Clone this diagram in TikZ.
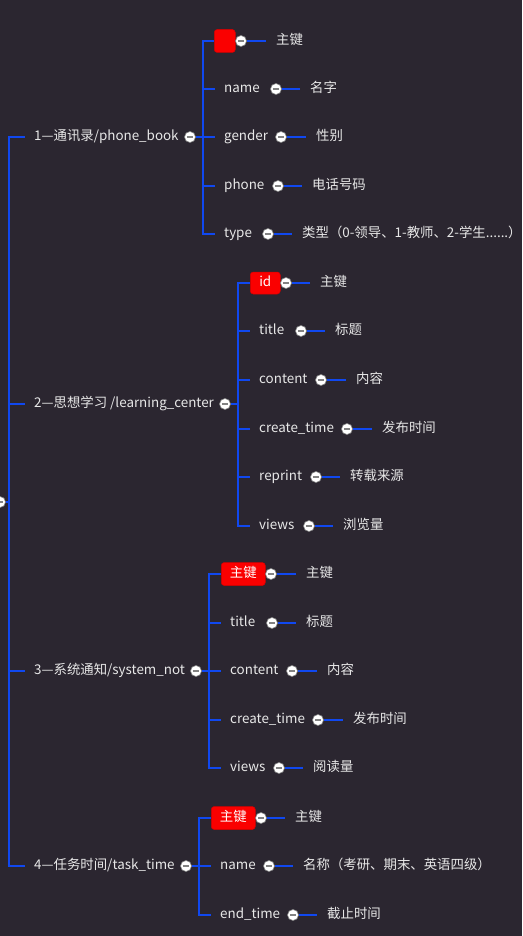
\documentclass[tikz,border=0pt]{standalone}
\usepackage{fontspec}
\setmainfont{Noto Sans CJK SC}
\definecolor{bg}{RGB}{43,38,48}
\definecolor{lineblue}{RGB}{16,72,240}
\definecolor{txtgray}{RGB}{232,232,232}
\definecolor{knobgray}{RGB}{130,130,130}
\definecolor{keyred}{RGB}{250,0,0}
\tikzset{
  link/.style={draw=lineblue, line width=2pt},
  knob/.style={circle, fill=white, draw=knobgray, line width=0.6pt, minimum size=11pt, inner sep=0pt,
    path picture={\draw[knobgray, line width=1.3pt] ([xshift=-3.2pt]path picture bounding box.center) -- ([xshift=3.2pt]path picture bounding box.center);}},
  txt/.style={text=txtgray, font=\fontsize{13.4}{15}\selectfont, inner sep=0pt, anchor=west, text height=0.96em, text depth=0.2em},
  keybox/.style={fill=keyred, draw=keyred!85!black, line width=0.5pt, rounded corners=3pt, inner sep=0pt, text=white,
    font=\fontsize{13.4}{15}\selectfont, minimum height=23pt, anchor=west, text height=0.96em, text depth=0.2em}
}
\begin{document}
\begin{tikzpicture}[x=1pt,y=-1pt]
\fill[bg] (0,0) rectangle (522,936);
\useasboundingbox (0,0) rectangle (522,936);

% root and headings
\node[knob] (root) at (0,502) {};
\node[txt] (h1) at (34,137) {1—通讯录/phone\_book};
\node[txt] (h2) at (34,404) {2—思想学习 /learning\_center};
\node[txt] (h3) at (34,671) {3—系统通知/system\_not};
\node[txt] (h4) at (34,866) {4—任务时间/task\_time};
\node[knob] (b1k) at (190,137) {};
\node[knob] (b2k) at (225,404) {};
\node[knob] (b3k) at (196,671) {};
\node[knob] (b4k) at (186,866) {};

% branch 1
\node[keybox, minimum width=21pt] (f11) at (214,41) {};
\node[txt] (f12) at (224,89) {name};
\node[txt] (f13) at (224,137) {gender};
\node[txt] (f14) at (224,186) {phone};
\node[txt] (f15) at (224,234) {type};
\node[knob] (k11) at (241,41) {};
\node[knob] (k12) at (276,89) {};
\node[knob] (k13) at (281,137) {};
\node[knob] (k14) at (278,186) {};
\node[knob] (k15) at (268,234) {};
\node[txt] (d11) at (276,41) {主键};
\node[txt] (d12) at (310,89) {名字};
\node[txt] (d13) at (316,137) {性别};
\node[txt] (d14) at (312,186) {电话号码};
\node[txt] (d15) at (302,234) {类型（0-领导、1-教师、2-学生......）};

% branch 2
\node[keybox, minimum width=30pt, minimum height=22pt] (f21) at (250,283) {id};
\node[txt] (f22) at (259,331) {title};
\node[txt] (f23) at (259,380) {content};
\node[txt] (f24) at (259,429) {create\_time};
\node[txt] (f25) at (259,477) {reprint};
\node[txt] (f26) at (259,526) {views};
\node[knob] (k21) at (286,283) {};
\node[knob] (k22) at (301,331) {};
\node[knob] (k23) at (321,380) {};
\node[knob] (k24) at (347,429) {};
\node[knob] (k25) at (316,477) {};
\node[knob] (k26) at (309,526) {};
\node[txt] (d21) at (320,283) {主键};
\node[txt] (d22) at (335,331) {标题};
\node[txt] (d23) at (356,380) {内容};
\node[txt] (d24) at (382,429) {发布时间};
\node[txt] (d25) at (350,477) {转载来源};
\node[txt] (d26) at (343,526) {浏览量};

% branch 3
\node[keybox, minimum width=44pt] (f31) at (221,574) {主键};
\node[txt] (f32) at (230,623) {title};
\node[txt] (f33) at (230,671) {content};
\node[txt] (f34) at (230,720) {create\_time};
\node[txt] (f35) at (230,768) {views};
\node[knob] (k31) at (271,574) {};
\node[knob] (k32) at (272,623) {};
\node[knob] (k33) at (292,671) {};
\node[knob] (k34) at (318,720) {};
\node[knob] (k35) at (279,768) {};
\node[txt] (d31) at (306,574) {主键};
\node[txt] (d32) at (306,623) {标题};
\node[txt] (d33) at (327,671) {内容};
\node[txt] (d34) at (353,720) {发布时间};
\node[txt] (d35) at (313,768) {阅读量};

% branch 4
\node[keybox, minimum width=44pt] (f41) at (211,818) {主键};
\node[txt] (f42) at (220,866) {name};
\node[txt] (f43) at (220,915) {end\_time};
\node[knob] (k41) at (261,818) {};
\node[knob] (k42) at (269,866) {};
\node[knob] (k43) at (293,915) {};
\node[txt] (d41) at (295,818) {主键};
\node[txt] (d42) at (303,866) {名称（考研、期末、英语四级）};
\node[txt] (d43) at (327,915) {截止时间};

% connectors: root to headings
\draw[link] (root.east) -- ++(3.5,0) coordinate (j0);
\foreach \h in {h1,h2,h3,h4} \draw[link] (j0) |- ([xshift=-9pt]\h.west);

% branch knobs to fields
\draw[link] (b1k.east) -- ++(7.5,0) coordinate (j1);
\draw[link] (j1) |- (f11.west);
\foreach \f in {f12,f13,f14,f15} \draw[link] (j1) |- ([xshift=-9pt]\f.west);
\draw[link] (b2k.east) -- ++(7.5,0) coordinate (j2);
\draw[link] (j2) |- (f21.west);
\foreach \f in {f22,f23,f24,f25,f26} \draw[link] (j2) |- ([xshift=-9pt]\f.west);
\draw[link] (b3k.east) -- ++(7.5,0) coordinate (j3);
\draw[link] (j3) |- (f31.west);
\foreach \f in {f32,f33,f34,f35} \draw[link] (j3) |- ([xshift=-9pt]\f.west);
\draw[link] (b4k.east) -- ++(7.5,0) coordinate (j4);
\draw[link] (j4) |- (f41.west);
\foreach \f in {f42,f43} \draw[link] (j4) |- ([xshift=-9pt]\f.west);

% field knobs to descriptions
\foreach \k/\d in {k11/d11,k12/d12,k13/d13,k14/d14,k15/d15,k21/d21,k22/d22,k23/d23,k24/d24,k25/d25,k26/d26,k31/d31,k32/d32,k33/d33,k34/d34,k35/d35,k41/d41,k42/d42,k43/d43}
  \draw[link] (\k.east) -- ([xshift=-10pt]\d.west);
\end{tikzpicture}
\end{document}
